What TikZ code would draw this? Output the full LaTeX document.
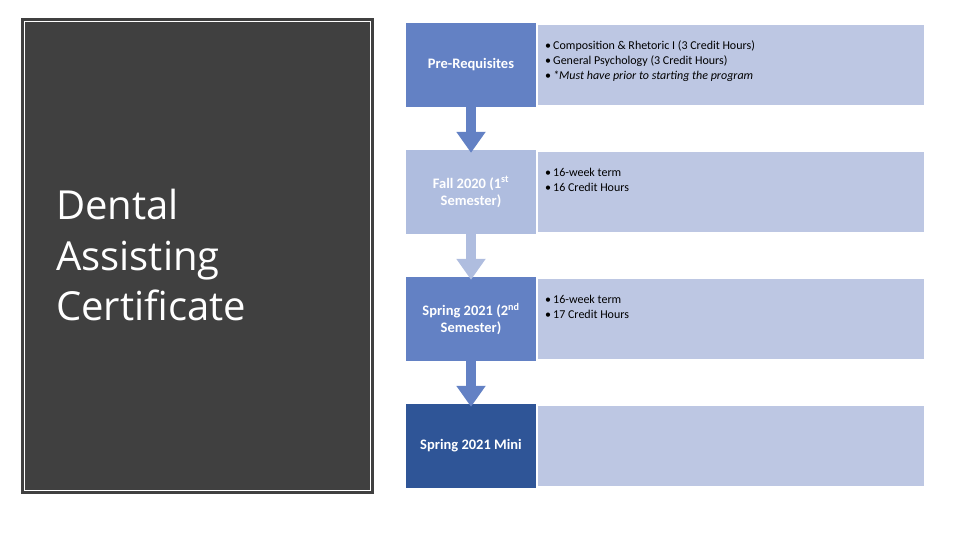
\documentclass[tikz,border=0pt]{standalone}
\usepackage{fontspec}
\setmainfont{Carlito}
\newfontfamily\titlefont{Open Sans}
\usetikzlibrary{arrows.meta}
\definecolor{darkpanel}{HTML}{404040}
\definecolor{midblue}{HTML}{6381C4}
\definecolor{lightblue}{HTML}{AFBDDF}
\definecolor{paleblue}{HTML}{BDC7E3}
\definecolor{deepblue}{HTML}{2F5597}
\newcommand{\bul}{\makebox[8pt][l]{\textbullet}}
\begin{document}
\begin{tikzpicture}[x=1pt,y=-1pt,
  level/.style={minimum width=130pt, minimum height=84pt, inner sep=0pt, text=white,
    font=\bfseries\fontsize{14.5}{17}\selectfont, align=center},
  info/.style={minimum width=386pt, minimum height=80pt, fill=paleblue, inner sep=0pt},
  infotext/.style={anchor=north west, inner sep=0pt, align=left, text=black,
    font=\fontsize{12}{15}\selectfont},
  titleline/.style={anchor=base west, inner sep=0pt, text=white,
    font=\titlefont\fontsize{40}{50}\selectfont},
  flow/.style={line width=9.5pt, -{Triangle[width=28pt,length=21pt]}, shorten >=-3pt}
]
\useasboundingbox (0,0) rectangle (960,540);
% left panel
\node[fill=darkpanel, minimum width=353pt, minimum height=476pt, inner sep=0pt] (panel) at (197.5,256) {};
\draw[white, line width=1.2pt] ([shift={(3.5,3.5)}]panel.north west) rectangle ([shift={(-3.5,-3.5)}]panel.south east);
\node[titleline] (t1) at (56,219.5) {Dental};
\node[titleline] (t2) at (56,270) {Assisting};
\node[titleline] (t3) at (56,320.5) {Certificate};
% level boxes
\node[level, fill=midblue] (pre) at (471,65) {Pre-Requisites};
\node[level, fill=lightblue] (fall) at (471,192) {Fall 2020 (1\textsuperscript{st}\\Semester)};
\node[level, fill=midblue] (spring) at (471,319) {Spring 2021 (2\textsuperscript{nd}\\Semester)};
\node[level, fill=deepblue] (mini) at (471,446) {Spring 2021 Mini};
% info boxes
\node[info] (ipre) at (731,65) {};
\node[info] (ifall) at (731,192) {};
\node[info] (ispring) at (731,319) {};
\node[info] (imini) at (731,446) {};
\node[infotext] (tpre) at (545,40.5) {\bul Composition \& Rhetoric I (3 Credit Hours)\\\bul General Psychology (3 Credit Hours)\\\bul \textit{*Must have prior to starting the program}};
\node[infotext] (tfall) at (545,167.5) {\bul 16-week term\\\bul 16 Credit Hours};
\node[infotext] (tspring) at (545,294.5) {\bul 16-week term\\\bul 17 Credit Hours};
% arrows
\draw[flow, midblue] (pre.south) -- (fall.north);
\draw[flow, lightblue] (fall.south) -- (spring.north);
\draw[flow, midblue] (spring.south) -- (mini.north);
\end{tikzpicture}
\end{document}
